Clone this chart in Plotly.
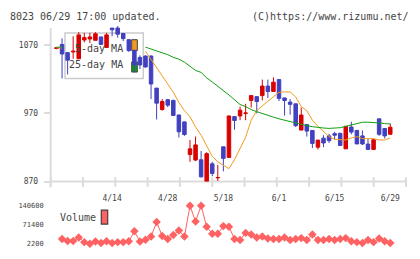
import plotly.graph_objects as go

# ---------------- data ----------------
dates = ["3/31", "4/1", "4/2", "4/3", "4/6", "4/7", "4/8", "4/9", "4/10", "4/13",
         "4/14", "4/15", "4/16", "4/17", "4/20", "4/21", "4/22", "4/23", "4/24", "4/27",
         "4/28", "4/30", "5/1", "5/7", "5/8", "5/11", "5/12", "5/13", "5/14", "5/15",
         "5/18", "5/19", "5/20", "5/21", "5/22", "5/25", "5/26", "5/27", "5/28", "5/29",
         "6/1", "6/2", "6/3", "6/4", "6/5", "6/8", "6/9", "6/10", "6/11", "6/12",
         "6/15", "6/16", "6/17", "6/18", "6/19", "6/22", "6/23", "6/24", "6/25", "6/26",
         "6/29"]

tick_labels = ["4/14", "4/28", "5/18", "6/1", "6/15", "6/29"]

open_ = [1065, 1071, 1059, 1060, 1050, 1077.5, 1079, 1077, 1082, 1066.6,
         1095, 1095, 1087, 1078, 1062, 1052, 1054, 1054, 1007, 975.6,
         990, 989, 967.6, 957.5, 909.6, 901.6, 902, 870, 896, 875.5,
         921, 905.4, 965.3, 966.2, 970, 989, 994.5, 996, 1010, 1002,
         1019.5, 992.6, 986.5, 984, 945.5, 953.5, 945, 920.5, 933.7, 937,
         940.3, 940.8, 918, 950, 945, 937, 925, 917.2, 962, 947.8,
         939.3]
high = [1067, 1080, 1060, 1083, 1089, 1088, 1088, 1089, 1082, 1088,
        1095, 1098, 1088, 1079, 1064, 1055, 1055, 1055, 1007, 991,
        991, 990, 968, 958, 931, 936, 915, 913, 899, 894.5,
        921, 966.5, 966, 980, 984, 996, 995, 1019.5, 1019.5, 1022.8,
        1019.5, 993, 991, 984, 978.5, 953.5, 945, 931, 938, 940,
        943, 941, 951, 957.7, 945, 945, 933, 933, 962, 948,
        955]
low = [1064, 1021, 1027, 1050, 1050, 1074, 1073, 1077, 1071, 1066,
       1083, 1081, 1076, 1060, 1031, 1035, 1037, 991, 961, 974,
       979, 966, 934.6, 937, 899, 900, 876, 870, 878, 871,
       885, 905, 946, 960, 960, 978.5, 970, 989, 992.6, 1002,
       988, 966.7, 968, 950, 945.5, 936, 919, 917, 920.5, 926.6,
       931.3, 922.8, 918, 939.3, 925, 923.8, 917, 917, 937, 933.2,
       939]
close = [1066, 1057, 1048, 1061, 1085, 1081, 1082, 1086.5, 1071, 1085,
         1092.5, 1086, 1079.5, 1062, 1041, 1041, 1038, 1013, 985, 987.4,
         982, 967, 943, 939, 918, 923.8, 877, 911, 882, 876,
         904, 966.2, 959.6, 974.7, 970.5, 996, 987.4, 1010, 1002, 1015.7,
         992, 988.8, 983.2, 952, 967.6, 944, 926, 930.8, 926.6, 930,
         938, 923, 951, 942.6, 925.2, 925.2, 917.2, 931.3, 939.3, 937,
         949.7]

# moving averages (None where hidden behind the legend box)
ma5 = [1066, 1066] + [None] * 14 + [
    1061, 1049, 1038, 1026, 1013, 1001, 986, 974, 965, 950,
    938, 923, 907, 899, 894.5, 889, 902, 918, 935, 960,
    974, 981, 988, 995, 1001, 1001.5, 1001.3, 994, 980, 974,
    960, 951, 943, 936, 932, 931, 931, 934, 936, 933,
    933, 933, 931, 931, 934]
ma25 = [1067, 1067] + [None] * 14 + [
    1067, 1064.5, 1062, 1059, 1056, 1052, 1049.5, 1045, 1039, 1033,
    1030, 1022, 1016, 1010, 1003, 997, 990, 983, 980, 975.5,
    972.5, 969.5, 967, 964.5, 962, 960, 957, 955, 953.5, 952,
    950.5, 949, 948.5, 948, 948, 949, 951, 953, 955.5, 957,
    957, 957, 956, 955, 954.5]

volume = [None, 19000, 12300, 12300, 24700, 7800, 2200, 10100, 4500, 11200,
          4500, 7800, 7800, 11200, 47200, 10100, 16800, 28100, 81000, 30300,
          19100, 33700, 50600, 28100, 140600, 83200, 140600, 64100, 38200, 38200,
          66300, 64100, 19100, 15700, 41600, 36000, 24700, 28100, 21300, 19100,
          19100, 24700, 15700, 19100, 22500, 15700, 36000, 15700, 15700, 19100,
          15700, 19100, 22500, 11200, 7800, 4500, 15700, 7800, 21300, 11200,
          4500]

price_ticks = [870, 970, 1070]
volume_ticks = [2200, 71400, 140600]

# ---------------- style ----------------
W, H = 420, 259
RED = "#d90000"
BLUE = "#4040c0"
ORANGE = "#f39a1e"
GREEN = "#12a012"
VOLC = "#ff6262"
AXC = "#dcdcdc"
TXT = "#454545"
MONO = "DejaVu Sans Mono"


def px(x):
    return x / W


def py(y):
    return 1 - y / H


fig = go.Figure()

fig.add_trace(go.Candlestick(
    x=dates, open=open_, high=high, low=low, close=close,
    increasing=dict(line=dict(color=RED, width=1), fillcolor=RED),
    decreasing=dict(line=dict(color=BLUE, width=1), fillcolor=BLUE),
    whiskerwidth=0, showlegend=False, hoverinfo="skip",
    xaxis="x", yaxis="y"))

fig.add_trace(go.Scatter(x=dates, y=ma5, mode="lines", connectgaps=False,
                         line=dict(color=ORANGE, width=1), showlegend=False,
                         xaxis="x", yaxis="y"))
fig.add_trace(go.Scatter(x=dates, y=ma25, mode="lines", connectgaps=False,
                         line=dict(color=GREEN, width=1), showlegend=False,
                         xaxis="x", yaxis="y"))

fig.add_trace(go.Scatter(x=dates, y=volume, mode="lines+markers",
                         line=dict(color=VOLC, width=1),
                         marker=dict(symbol="diamond", size=6.5, color=VOLC),
                         cliponaxis=False, showlegend=False,
                         xaxis="x2", yaxis="y2"))

xdom = [px(50.7), px(406)]
xrange_ = [-1.04, 62.83]

fig.update_layout(
    width=W, height=H,
    margin=dict(l=0, r=0, t=0, b=0),
    paper_bgcolor="white", plot_bgcolor="white",
    boxgap=0.1,
    xaxis=dict(domain=xdom, type="category", categoryorder="array",
               categoryarray=dates, range=xrange_,
               tickvals=tick_labels, ticktext=tick_labels, ticks="",
               showgrid=False, zeroline=False, showline=False,
               rangeslider=dict(visible=False),
               tickfont=dict(family=MONO, size=8, color=TXT),
               ticklabelstandoff=10, anchor="y"),
    yaxis=dict(domain=[py(184), py(184 - 228.5 * 0.707)],
               range=[870, 1098.5], tickvals=price_ticks,
               ticks="outside", ticklen=6, tickwidth=2, tickcolor=AXC,
               showgrid=False, zeroline=False, showline=False,
               tickfont=dict(family=MONO, size=8, color=TXT),
               ticklabelstandoff=4, anchor="x"),
    xaxis2=dict(domain=xdom, type="category", categoryorder="array",
                categoryarray=dates, range=xrange_, visible=False,
                anchor="y2", matches="x"),
    yaxis2=dict(domain=[py(248.3), py(209)], range=[2200, 140600],
                tickvals=volume_ticks, tickformat="d", ticks="",
                showgrid=False, zeroline=False, showline=False,
                tickfont=dict(family=MONO, size=7, color=TXT),
                ticklabelstandoff=6, anchor="x2"),
)

shapes = []
# price axis lines
shapes.append(dict(type="line", xref="paper", yref="paper",
                   x0=px(50.7), x1=px(50.7), y0=py(25), y1=py(190),
                   line=dict(color=AXC, width=2), layer="below"))
shapes.append(dict(type="line", xref="paper", yref="paper",
                   x0=px(50.7), x1=px(407), y0=py(184), y1=py(184),
                   line=dict(color=AXC, width=2), layer="below"))
# x tick marks on the axis
for k in range(12):
    xx = 50.7 + k * (406 - 50.7) / 11
    shapes.append(dict(type="line", xref="paper", yref="paper",
                       x0=px(xx), x1=px(xx), y0=py(179.5), y1=py(189.5),
                       line=dict(color=AXC, width=2), layer="below"))
# MA legend box
shapes.append(dict(type="rect", xref="paper", yref="paper",
                   x0=px(65), x1=px(143.3), y0=py(30), y1=py(77.3),
                   fillcolor="white", line=dict(color="#cccccc", width=1.5),
                   layer="below"))
shapes.append(dict(type="rect", xref="paper", yref="paper",
                   x0=px(131.7), x1=px(137.3), y0=py(37), y1=py(48.3),
                   fillcolor=ORANGE, line=dict(color="#404040", width=1),
                   layer="below"))
shapes.append(dict(type="rect", xref="paper", yref="paper",
                   x0=px(131.7), x1=px(137.3), y0=py(60), y1=py(70.5),
                   fillcolor=GREEN, line=dict(color="#404040", width=1),
                   layer="below"))
# volume legend swatch
shapes.append(dict(type="rect", xref="paper", yref="paper",
                   x0=px(101.3), x1=px(107.7), y0=py(213.5), y1=py(228),
                   fillcolor=VOLC, line=dict(color="#404040", width=1.2),
                   layer="above"))
fig.update_layout(shapes=shapes)

ann = [
    dict(text="8023 06/29 17:00 updated.", x=px(8), y=py(12.5),
         xanchor="left", size=10),
    dict(text="(C)https://www.rizumu.net/", x=px(410.5), y=py(12.5),
         xanchor="right", size=10),
    dict(text="5-day MA", x=px(125), y=py(46), xanchor="right", size=10),
    dict(text="25-day MA", x=px(125), y=py(63), xanchor="right", size=10),
    dict(text="Volume", x=px(57.5), y=py(221.7), xanchor="left", size=10),
]
fig.update_layout(annotations=[
    dict(text=a["text"], x=a["x"], y=a["y"], xref="paper", yref="paper",
         xanchor=a["xanchor"], yanchor="middle", showarrow=False,
         font=dict(family=MONO, size=a["size"], color=TXT))
    for a in ann])

fig.write_html("out.html")
